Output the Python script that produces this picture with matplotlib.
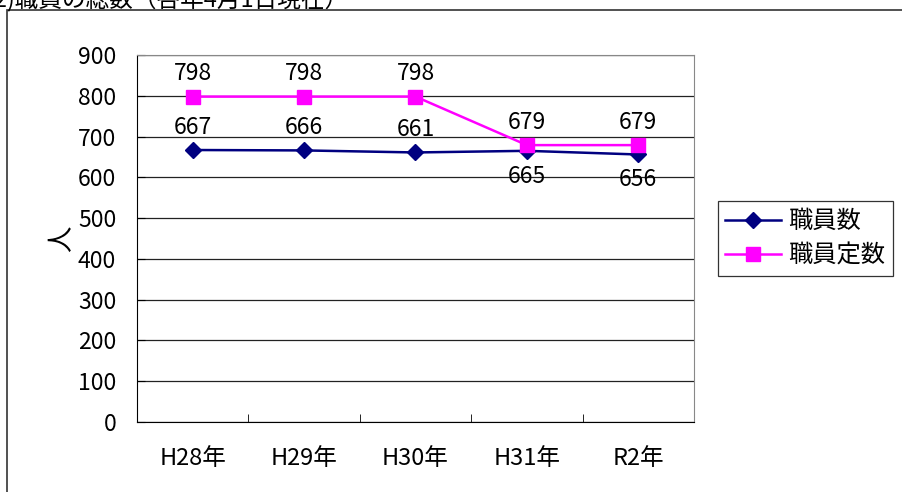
import matplotlib.pyplot as plt
import matplotlib.patches as patches

plt.rcParams['font.family'] = ['Noto Sans CJK JP', 'DejaVu Sans']

# Data
years = ['H28年', 'H29年', 'H30年', 'H31年', 'R2年']
staff = [667, 666, 661, 665, 656]
quota = [798, 798, 798, 679, 679]
staff_label_pos = ['above', 'above', 'above', 'below', 'below']

fig = plt.figure(figsize=(9.03, 4.92), dpi=100)
W, H = 903, 492

# outer frame (cut off at right and bottom)
fig.patches.append(patches.Rectangle((7 / W, -0.1), 1.2, 1.1 - 10 / H,
                                     transform=fig.transFigure, fill=False,
                                     edgecolor='#333333', linewidth=1.2))
# clipped title above the frame
fig.text(-0.014, 1 + 1 / H, '(2)職員の総数（各年4月1日現在）', fontsize=17,
         va='center', ha='left')

ax = fig.add_axes([137 / W, 1 - 422 / H, (694 - 137) / W, (422 - 55) / H])
x = list(range(len(years)))

ax.plot(x, staff, color='#000080', marker='D', markersize=8, linewidth=1.8,
        label='職員数', zorder=3)
ax.plot(x, quota, color='#FF00FF', marker='s', markersize=10, linewidth=1.8,
        label='職員定数', zorder=4)

fs = 16.5
for i in x:
    ax.annotate(str(quota[i]), (i, quota[i]), xytext=(0, 8),
                textcoords='offset points', ha='center', va='bottom', fontsize=fs)
    if staff_label_pos[i] == 'above':
        ax.annotate(str(staff[i]), (i, staff[i]), xytext=(0, 8),
                    textcoords='offset points', ha='center', va='bottom', fontsize=fs)
    else:
        ax.annotate(str(staff[i]), (i, staff[i]), xytext=(0, -10),
                    textcoords='offset points', ha='center', va='top', fontsize=fs)

ax.set_xlim(-0.5, len(years) - 0.5)
ax.set_ylim(0, 900)
ax.set_yticks(range(0, 901, 100))
ax.tick_params(axis='y', direction='in', length=6, labelsize=fs, pad=15)
ax.set_xticks(x)
ax.set_xticklabels(years)
ax.set_xticks([i + 0.5 for i in x[:-1]], minor=True)
ax.tick_params(axis='x', which='major', length=0, labelsize=17, pad=18)
ax.tick_params(axis='x', which='minor', direction='in', length=6)
ax.yaxis.grid(True, color='#222222', linewidth=0.9)
ax.set_axisbelow(True)

for s in ['top', 'right']:
    ax.spines[s].set_color('#888888')
for s in ['left', 'bottom']:
    ax.spines[s].set_color('#000000')

ax.set_ylabel('人', fontsize=19, rotation=90, labelpad=2)

leg = fig.legend(loc='upper left', bbox_to_anchor=(718 / W, 1 - 201 / H),
                 fontsize=17.5, frameon=True, fancybox=False, edgecolor='#000000',
                 borderpad=0.3, handlelength=2.3, handletextpad=0.3,
                 labelspacing=0.35, borderaxespad=0)
leg.get_frame().set_linewidth(0.9)

fig.savefig('out.png', dpi=100)
